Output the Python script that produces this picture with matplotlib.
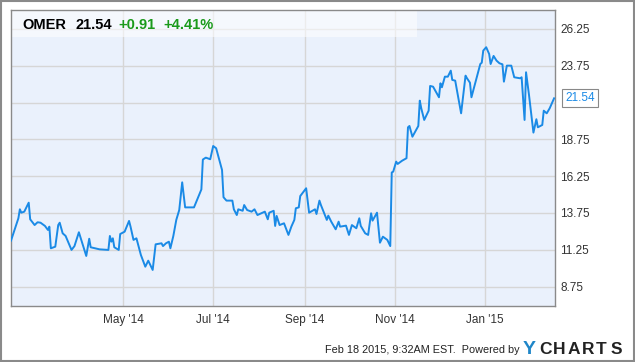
import pandas as pd
import matplotlib
matplotlib.use('agg')
import matplotlib.pyplot as plt
import matplotlib.dates as mdates
from matplotlib.patches import Rectangle

# OMER daily close
dates = [
    '2014-02-14', '2014-02-19', '2014-02-20', '2014-02-21', '2014-02-23', '2014-02-26',
    '2014-02-27', '2014-03-02', '2014-03-04', '2014-03-06', '2014-03-09', '2014-03-11',
    '2014-03-12', '2014-03-13', '2014-03-16', '2014-03-18', '2014-03-19', '2014-03-21',
    '2014-03-23', '2014-03-27', '2014-03-29', '2014-04-01', '2014-04-04', '2014-04-06',
    '2014-04-08', '2014-04-09', '2014-04-15', '2014-04-21', '2014-04-22', '2014-04-23',
    '2014-04-24', '2014-04-25', '2014-04-28', '2014-04-29', '2014-05-02', '2014-05-05',
    '2014-05-06', '2014-05-08', '2014-05-10', '2014-05-13', '2014-05-16', '2014-05-18',
    '2014-05-21', '2014-05-23', '2014-05-27', '2014-05-28', '2014-05-30', '2014-06-01',
    '2014-06-02', '2014-06-04', '2014-06-06', '2014-06-08', '2014-06-10', '2014-06-12',
    '2014-06-18', '2014-06-23', '2014-06-24', '2014-06-26', '2014-06-29', '2014-07-01',
    '2014-07-03', '2014-07-07', '2014-07-08', '2014-07-10', '2014-07-14', '2014-07-15',
    '2014-07-17', '2014-07-18', '2014-07-21', '2014-07-22', '2014-07-24', '2014-07-27',
    '2014-07-29', '2014-07-31', '2014-08-05', '2014-08-07', '2014-08-08', '2014-08-11',
    '2014-08-12', '2014-08-13', '2014-08-15', '2014-08-18', '2014-08-21', '2014-08-23',
    '2014-08-25', '2014-08-26', '2014-08-28', '2014-08-29', '2014-09-02', '2014-09-04',
    '2014-09-08', '2014-09-09', '2014-09-11', '2014-09-12', '2014-09-16', '2014-09-17',
    '2014-09-19', '2014-09-22', '2014-09-24', '2014-09-25', '2014-09-29', '2014-10-01',
    '2014-10-03', '2014-10-06', '2014-10-08', '2014-10-09', '2014-10-12', '2014-10-14',
    '2014-10-16', '2014-10-17', '2014-10-20', '2014-10-22', '2014-10-24', '2014-10-27',
    '2014-10-29', '2014-10-30', '2014-10-31', '2014-11-02', '2014-11-03', '2014-11-06',
    '2014-11-09', '2014-11-10', '2014-11-11', '2014-11-13', '2014-11-17', '2014-11-18',
    '2014-11-19', '2014-11-21', '2014-11-24', '2014-11-25', '2014-11-27', '2014-11-28',
    '2014-12-01', '2014-12-02', '2014-12-03', '2014-12-05', '2014-12-07', '2014-12-09',
    '2014-12-10', '2014-12-12', '2014-12-16', '2014-12-19', '2014-12-20', '2014-12-22',
    '2014-12-23', '2014-12-29', '2014-12-30', '2014-12-31', '2015-01-02', '2015-01-04',
    '2015-01-05', '2015-01-07', '2015-01-09', '2015-01-11', '2015-01-13', '2015-01-14',
    '2015-01-16', '2015-01-19', '2015-01-21', '2015-01-25', '2015-01-26', '2015-01-28',
    '2015-01-29', '2015-01-31', '2015-02-03', '2015-02-05', '2015-02-06', '2015-02-09',
    '2015-02-10', '2015-02-12', '2015-02-14', '2015-02-17',
]
prices = [
    11.87, 13.39, 14.00, 13.77, 13.84, 14.45,
    13.32, 12.93, 13.12, 13.09, 12.87, 12.60,
    12.82, 11.35, 11.46, 12.93, 13.09, 12.37,
    12.19, 11.24, 11.50, 12.44, 11.46, 10.83,
    12.00, 11.42, 11.28, 11.24, 12.19, 11.80,
    12.03, 11.42, 11.24, 12.32, 12.48, 13.21,
    12.82, 11.92, 12.03, 10.90, 10.10, 10.51,
    9.88, 11.62, 11.69, 11.50, 11.69, 11.80,
    11.35, 12.19, 13.28, 13.95, 15.83, 14.13,
    14.13, 15.35, 17.38, 17.51, 17.40, 18.30,
    18.15, 16.67, 14.82, 14.59, 14.59, 14.00,
    13.61, 14.00, 13.90, 14.29, 13.95, 13.84,
    14.00, 13.61, 13.84, 13.32, 13.77, 13.90,
    12.87, 13.55, 12.93, 13.05, 12.26, 12.83,
    13.28, 14.07, 14.13, 14.90, 15.43, 13.77,
    14.00, 13.68, 14.59, 14.29, 13.28, 13.57,
    13.16, 12.64, 13.16, 12.82, 12.89, 12.26,
    12.93, 12.71, 13.39, 12.87, 12.37, 12.26,
    13.73, 13.23, 13.77, 11.73, 12.14, 11.92,
    11.50, 16.50, 16.56, 17.24, 17.08, 17.30,
    17.47, 19.57, 19.66, 18.93, 19.66, 21.38,
    20.86, 20.07, 20.70, 22.38, 22.33, 22.15,
    21.61, 22.56, 22.29, 23.01, 23.01, 23.42,
    22.79, 22.74, 20.52, 23.08, 22.90, 22.60,
    21.61, 23.87, 23.96, 24.78, 25.01, 24.55,
    23.87, 24.42, 24.10, 23.92, 23.85, 22.67,
    23.76, 23.76, 22.97, 22.90, 22.97, 20.07,
    23.31, 21.77, 19.21, 20.12, 19.57, 19.73,
    20.70, 20.52, 20.86, 21.54,
]
y_ticks = [8.75, 11.25, 13.75, 16.25, 18.75, 21.25, 23.75, 26.25]
# the 21.25 label sits under the last-price flag, so it stays blank
y_labels = ['8.75', '11.25', '13.75', '16.25', '18.75', '', '23.75', '26.25']
month_ticks = ['2014-05-01', '2014-07-01', '2014-09-01', '2014-11-01', '2015-01-01']

ticker = 'OMER'
last_price = '21.54'
change = '+0.91'
change_pct = '+4.41%'
stamp = 'Feb 18 2015, 9:32AM EST.  Powered by'

line_color = '#1a8ae6'
text_color = '#333333'
green = '#1a9a1a'

df = pd.DataFrame({'date': pd.to_datetime(dates), 'price': prices})

plt.rcParams['font.family'] = ['Liberation Sans', 'DejaVu Sans']

fig = plt.figure(figsize=(6.35, 3.62), dpi=100)
ax = fig.add_axes([11 / 635, 1 - 306 / 362, 543.7 / 635, 296 / 362])
ax.set_facecolor('#eaf1fc')

ax.plot(df['date'], df['price'], color=line_color, lw=1.4, zorder=3)

ax.set_xlim(pd.Timestamp('2014-02-14'), pd.Timestamp('2015-02-17 10:00'))
ax.set_ylim(7.43, 27.54)

ax.set_yticks(y_ticks)
ax.set_yticklabels(y_labels)
ax.yaxis.tick_right()
ax.set_xticks(pd.to_datetime(month_ticks))
ax.xaxis.set_major_formatter(mdates.DateFormatter("%b '%y"))
ax.tick_params(length=0, labelsize=8.5, colors=text_color)
ax.tick_params(axis='y', pad=4)
ax.tick_params(axis='x', pad=6)
ax.grid(color='#d6d6d6', lw=1, zorder=1)
ax.set_axisbelow(True)

for side in ['left', 'right', 'top', 'bottom']:
    ax.spines[side].set_color('#8a8a8a')
    ax.spines[side].set_linewidth(1)

# lighter header band behind the quote
ax.add_patch(Rectangle((0, (306 - 37) / 296), (416.7 - 11) / 543.7, 27 / 296,
                       transform=ax.transAxes, facecolor='white', alpha=0.55,
                       lw=0, zorder=2))

# quote header
fig.text(22 / 635, 1 - 29 / 362, ticker, fontsize=10.5, fontweight='bold', color='black')
fig.text(75 / 635, 1 - 29 / 362, last_price, fontsize=10.5, fontweight='bold', color='black')
fig.text(118 / 635, 1 - 29 / 362, change, fontsize=10.5, fontweight='bold', color=green)
fig.text(163 / 635, 1 - 29 / 362, change_pct, fontsize=10.5, fontweight='bold', color=green)

# last value flag
ax.annotate(last_price, xy=(df['date'].iloc[-1], prices[-1]), xycoords='data',
            xytext=(8, 0), textcoords='offset points', va='center', ha='left',
            fontsize=8.5, color=line_color, annotation_clip=False,
            bbox=dict(boxstyle='square,pad=0.25', fc='white', ec='#888888', lw=0.8))

# footer
fig.text(520 / 635, 1 - 353 / 362, stamp, fontsize=7.8, color='#222222', ha='right')
fig.text(523 / 635, 1 - 354 / 362, 'Y', fontsize=14, fontweight='bold', color='#1f86c8')
for i, ch in enumerate('CHARTS'):
    fig.text((539 + i * 14.3) / 635, 1 - 353.5 / 362, ch, fontsize=12.5,
             fontweight='bold', color='#222222')

# outer frame
fig.patches.append(Rectangle((0.001, 0.002), 0.997, 0.996, transform=fig.transFigure,
                             fill=False, ec='#8a8a8a', lw=1.5))

fig.savefig('out.png', dpi=100)
